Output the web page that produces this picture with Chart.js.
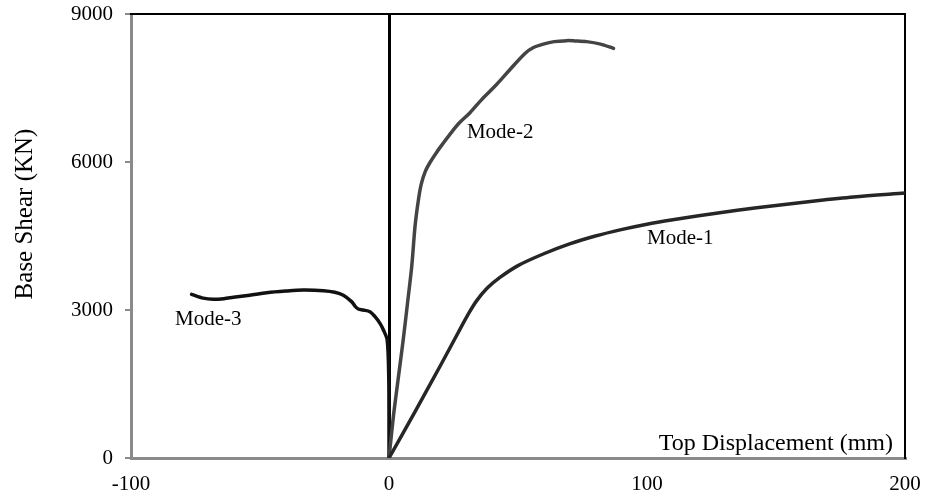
<!DOCTYPE html>
<html>
<head>
<meta charset="utf-8">
<title>Pushover curves</title>
<script src="https://cdn.jsdelivr.net/npm/chart.js@4.4.1/dist/chart.umd.min.js"></script>
<style>
  html, body { margin: 0; padding: 0; background: #fff; }
  #wrap { width: 926px; height: 500px; }
</style>
</head>
<body>
<div id="wrap"><canvas id="c" width="926" height="500"></canvas></div>
<script>
// Pushover curves: top displacement (mm) vs base shear (kN)
const xTicks = [-100, 0, 100, 200];
const yTicks = [0, 3000, 6000, 9000];

const mode1X = [0, 10, 20, 27, 31, 34, 38, 43, 50, 60, 70, 80, 90, 100, 110, 120, 135, 150, 165, 180, 200];
const mode1Y = [0, 930, 1880, 2560, 2940, 3190, 3440, 3660, 3900, 4140, 4340, 4500, 4630, 4740, 4830, 4910, 5020, 5120, 5210, 5290, 5370];

const mode2X = [0, 1.7, 3.6, 5.5, 7.2, 8.8, 10.1, 11.4, 12.5, 14, 16, 18.5, 21, 23.6, 27, 31.4, 36, 41.7, 47, 52.7, 56, 59.8, 64, 68.9, 72, 76.6, 82, 87];
const mode2Y = [0, 840, 1620, 2390, 3150, 3880, 4700, 5230, 5550, 5800, 6000, 6200, 6380, 6560, 6780, 7000, 7270, 7570, 7880, 8200, 8320, 8390, 8440, 8460, 8455, 8440, 8390, 8304];

const mode3X = [0, 0, -0.1, -0.7, -2.2, -3.5, -5.5, -7.4, -10, -11.9, -13.2, -14.5, -17.7, -21, -25.4, -33.2, -40, -47.4, -54, -60.3, -64, -68.1, -72, -76.5];
const mode3Y = [0, 800, 1650, 2390, 2600, 2730, 2870, 2966, 3000, 3020, 3080, 3170, 3300, 3360, 3392, 3405, 3385, 3351, 3300, 3257, 3230, 3217, 3240, 3318];

const curveNames = ['Mode-1', 'Mode-2', 'Mode-3'];
const curveLabelX = [100, 30.2, -82.9];
const curveLabelY = [4338, 6486, 2696];

const xTitle = 'Top Displacement (mm)';
const yTitle = 'Base Shear (KN)';

const FONT = "'Liberation Serif', 'Times New Roman', serif";
const AXIS_GRAY = '#8a8a8a';

function pairs(xs, ys) { return xs.map((x, i) => ({ x: x, y: ys[i] })); }

// Keep the plot box exactly where the layout padding puts it
function noScalePadding(s) {
  s.paddingTop = 0; s.paddingBottom = 0; s.paddingLeft = 0; s.paddingRight = 0;
}

// Curve names and axis captions drawn inside/next to the plot
const captions = {
  id: 'captions',
  afterDatasetsDraw(chart) {
    const { ctx, chartArea, scales } = chart;
    ctx.save();
    ctx.fillStyle = '#000';
    ctx.font = '21px ' + FONT;
    ctx.textAlign = 'left';
    ctx.textBaseline = 'alphabetic';
    curveNames.forEach((name, i) => {
      ctx.fillText(name, scales.x.getPixelForValue(curveLabelX[i]), scales.y.getPixelForValue(curveLabelY[i]));
    });
    ctx.font = '24px ' + FONT;
    ctx.textAlign = 'right';
    ctx.fillText(xTitle, chartArea.right - 12, chartArea.bottom - 8);
    ctx.translate(scales.y.left + 25, chartArea.top + 200);
    ctx.rotate(-Math.PI / 2);
    ctx.font = '25px ' + FONT;
    ctx.textAlign = 'center';
    ctx.textBaseline = 'middle';
    ctx.fillText(yTitle, 0, 0);
    ctx.restore();
  }
};

const lineDefaults = { showLine: true, pointRadius: 0, tension: 0.3, fill: false, borderCapStyle: 'round', borderJoinStyle: 'round' };

new Chart(document.getElementById('c'), {
  type: 'scatter',
  data: {
    datasets: [
      Object.assign({ label: curveNames[0], data: pairs(mode1X, mode1Y), borderColor: '#262626', borderWidth: 3.5 }, lineDefaults),
      Object.assign({ label: curveNames[1], data: pairs(mode2X, mode2Y), borderColor: '#444444', borderWidth: 3.5 }, lineDefaults),
      Object.assign({ label: curveNames[2], data: pairs(mode3X, mode3Y), borderColor: '#111111', borderWidth: 3.5 }, lineDefaults)
    ]
  },
  options: {
    responsive: false,
    animation: false,
    layout: { padding: { top: 14, right: 21, left: 0, bottom: 0 } },
    plugins: { legend: { display: false }, tooltip: { enabled: false } },
    scales: {
      x: {
        type: 'linear', position: 'bottom', min: -100, max: 200,
        afterBuildTicks: s => { s.ticks = xTicks.map(v => ({ value: v })); },
        afterFit: s => { s.height = 42; noScalePadding(s); },
        ticks: { color: '#000', font: { family: FONT, size: 21 }, padding: 14, maxRotation: 0, callback: v => String(v) },
        grid: {
          display: true, drawTicks: false, tickLength: 0,
          color: c => (c.tick && c.tick.value === 0 ? '#000' : 'rgba(0,0,0,0)'),
          lineWidth: 3
        },
        border: { display: true, color: AXIS_GRAY, width: 3 }
      },
      y: {
        type: 'linear', position: 'left', min: 0, max: 9000,
        afterBuildTicks: s => { s.ticks = yTicks.map(v => ({ value: v })); },
        afterFit: s => { s.width = 131; noScalePadding(s); },
        ticks: { color: '#000', font: { family: FONT, size: 21 }, padding: 12, callback: v => String(v) },
        grid: { display: true, drawOnChartArea: false, drawTicks: true, tickLength: 6, color: AXIS_GRAY, lineWidth: 2 },
        border: { display: true, color: AXIS_GRAY, width: 3 }
      },
      xTop: {
        type: 'linear', position: 'top', min: -100, max: 200,
        afterFit: s => { s.height = 0; noScalePadding(s); },
        ticks: { display: false },
        grid: { display: false },
        border: { display: true, color: '#000', width: 2 }
      },
      yRight: {
        type: 'linear', position: 'right', min: 0, max: 9000,
        afterFit: s => { s.width = 0; noScalePadding(s); },
        ticks: { display: false },
        grid: { display: false },
        border: { display: true, color: '#000', width: 2 }
      }
    }
  },
  plugins: [captions]
});
</script>
</body>
</html>
